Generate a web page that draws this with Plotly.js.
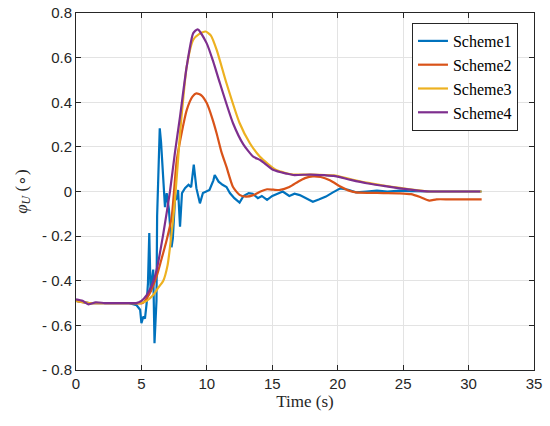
<!DOCTYPE html>
<html>
<head>
<meta charset="utf-8">
<script src="https://cdn.plot.ly/plotly-3.0.1.min.js"></script>
<style>html,body{margin:0;padding:0;background:#fff;}#chart{width:550px;height:426px;}</style>
</head>
<body>
<div id="chart"></div>
<script>
// Scheme1 (blue, noisy)
const t1 = [0, 1, 2, 3, 4, 4.63, 4.9, 5.0, 5.15, 5.27, 5.4, 5.5, 5.6, 5.7, 5.9, 6.0, 6.15, 6.2, 6.4, 6.5, 6.67, 6.8, 6.93, 7.1, 7.3, 7.4, 7.56, 7.7, 7.8, 7.95, 8.1, 8.33, 8.6, 8.8, 9.0, 9.2, 9.47, 9.7, 10.2, 10.5, 10.6, 10.9, 11.2, 11.5, 11.76, 12.1, 12.5, 12.8, 13.2, 13.5, 13.9, 14.2, 14.6, 15.0, 15.4, 15.8, 16.3, 16.7, 17.1, 17.6, 18.1, 18.6, 19.1, 19.6, 20.2, 20.8, 21.4, 22.2, 23.0, 23.8, 24.75, 25.5, 26.3, 27.3, 28, 29, 30, 31];
const y1 = [-0.49, -0.5, -0.5, -0.5, -0.5, -0.51, -0.53, -0.59, -0.56, -0.57, -0.5, -0.41, -0.186, -0.45, -0.35, -0.68, -0.49, -0.11, 0.283, 0.22, 0.04, -0.07, -0.007, -0.08, -0.25, -0.21, -0.04, -0.03, 0.007, -0.158, -0.007, 0.015, 0.03, 0.02, 0.12, 0.015, -0.053, -0.007, 0.007, 0.05, 0.074, 0.044, 0.03, 0.02, -0.007, -0.03, -0.05, -0.02, -0.007, -0.01, -0.03, -0.02, -0.038, -0.02, -0.01, 0.0, -0.02, -0.01, -0.016, -0.03, -0.046, -0.035, -0.023, -0.005, 0.014, 0.008, -0.004, 0.0, 0.004, 0.0, 0.004, 0.002, 0.0, 0.0, 0.0, 0.0, 0.0, 0.0];

// Scheme2 (orange)
const t2 = [0, 1, 2, 3, 4, 5.1, 5.6, 6.16, 6.5, 6.93, 7.3, 7.7, 8.1, 8.46, 8.9, 9.2, 9.6, 10.0, 10.4, 10.75, 11.1, 11.5, 12.0, 12.5, 13.0, 13.6, 14.1, 14.6, 15.1, 15.6, 16.3, 17.0, 17.5, 18.1, 18.7, 19.4, 20.2, 20.8, 21.4, 22.5, 23.5, 24.75, 25.6, 26.3, 27.0, 27.55, 28.5, 29.5, 31];
const y2 = [-0.49, -0.5, -0.5, -0.5, -0.5, -0.5, -0.46, -0.38, -0.31, -0.217, -0.12, 0.14, 0.27, 0.365, 0.425, 0.44, 0.43, 0.395, 0.33, 0.26, 0.18, 0.11, 0.02, -0.015, -0.023, -0.015, 0.0, 0.01, 0.008, 0.007, 0.02, 0.045, 0.06, 0.068, 0.065, 0.05, 0.022, 0.005, -0.004, -0.006, -0.007, -0.008, -0.012, -0.025, -0.041, -0.035, -0.035, -0.035, -0.035];

// Scheme3 (yellow)
const t3 = [0, 1, 2, 3, 4, 4.9, 5.4, 5.9, 6.3, 6.67, 7.0, 7.18, 7.56, 7.95, 8.2, 8.46, 8.96, 9.4, 9.9, 10.3, 10.75, 11.5, 12.5, 13.3, 14.06, 15.3, 16.6, 17.5, 18.5, 19.7, 21.0, 22.2, 23.5, 24.75, 26.0, 27.0, 27.3, 28, 29, 30, 31];
const y3 = [-0.49, -0.5, -0.5, -0.5, -0.5, -0.5, -0.49, -0.464, -0.43, -0.40, -0.33, -0.25, -0.04, 0.26, 0.42, 0.56, 0.68, 0.705, 0.717, 0.70, 0.635, 0.485, 0.307, 0.215, 0.156, 0.096, 0.076, 0.076, 0.075, 0.072, 0.055, 0.04, 0.027, 0.016, 0.006, 0.0, 0.0, 0.0, 0.0, 0.0, 0.0];

// Scheme4 (purple)
const t4 = [0, 0.5, 0.95, 1.5, 2.2, 3, 4, 4.6, 5.0, 5.4, 5.8, 6.16, 6.67, 7.18, 7.55, 7.95, 8.46, 8.96, 9.3, 9.98, 10.5, 11.0, 12.0, 12.8, 13.55, 14.1, 15.1, 16.1, 16.6, 17.9, 19.0, 19.7, 21.0, 22.2, 23.5, 24.75, 26.0, 27.0, 27.3, 28, 29, 30, 30.9];
const y4 = [-0.483, -0.49, -0.506, -0.497, -0.5, -0.5, -0.5, -0.5, -0.49, -0.464, -0.42, -0.352, -0.19, 0.0, 0.17, 0.335, 0.56, 0.71, 0.727, 0.665, 0.58, 0.485, 0.306, 0.21, 0.156, 0.14, 0.096, 0.08, 0.074, 0.076, 0.073, 0.07, 0.052, 0.037, 0.025, 0.014, 0.005, 0.0, 0.0, 0.0, 0.0, 0.0, 0.0];

const xTicks = [0, 5, 10, 15, 20, 25, 30, 35];
const yTicks = [-0.8, -0.6, -0.4, -0.2, 0, 0.2, 0.4, 0.6, 0.8];
const yTickText = ['- 0.8', '- 0.6', '- 0.4', '- 0.2', '0', '0.2', '0.4', '0.6', '0.8'];

const names = ['Scheme1', 'Scheme2', 'Scheme3', 'Scheme4'];
const colors = ['#0072BD', '#D95319', '#EDB120', '#7E2F8E'];
const xs = [t1, t2, t3, t4];
const ys = [y1, y2, y3, y4];

const serifSpan = s => "<span style=\"font-family:'Liberation Serif'\">" + s + "</span>";

const traces = names.map((n, i) => ({
  x: xs[i], y: ys[i], name: serifSpan(n), type: 'scatter', mode: 'lines',
  line: {color: colors[i], width: 2.2, shape: i === 0 ? 'linear' : 'spline', smoothing: 0.6}
}));

const layout = {
  width: 550, height: 426,
  margin: {l: 76, r: 16, t: 13, b: 56},
  paper_bgcolor: '#fff', plot_bgcolor: '#fff',
  showlegend: true,
  xaxis: {
    showgrid: true, gridcolor: '#e3e3e3', gridwidth: 1,
    zeroline: false, showline: true, linecolor: '#262626', linewidth: 1,
    mirror: 'ticks', ticks: 'inside', ticklen: 5, tickcolor: '#262626',
    tickfont: {family: 'Liberation Sans', size: 15, color: '#262626'},
    range: [0, 35], tickvals: xTicks,
    title: {text: serifSpan('Time (s)'), font: {family: 'Liberation Serif', size: 17, color: '#262626'}, standoff: 4}
  },
  yaxis: {
    showgrid: true, gridcolor: '#e3e3e3', gridwidth: 1,
    zeroline: false, showline: true, linecolor: '#262626', linewidth: 1,
    mirror: 'ticks', ticks: 'inside', ticklen: 5, tickcolor: '#262626',
    tickfont: {family: 'Liberation Sans', size: 15, color: '#262626'},
    range: [-0.8, 0.8], tickvals: yTicks, ticktext: yTickText,
    title: {text: serifSpan('<i>φ</i><sub><i>U</i></sub> (∘)'), font: {family: 'Liberation Serif', size: 17, color: '#262626'}, standoff: 10}
  },
  legend: {
    x: 0.965, y: 0.972, xanchor: 'right', yanchor: 'top',
    bgcolor: '#fff', bordercolor: '#262626', borderwidth: 1,
    font: {family: 'Liberation Serif', size: 16, color: '#000'},
    tracegroupgap: 0
  }
};

Plotly.newPlot('chart', traces, layout, {staticPlot: true, displayModeBar: false});
</script>
</body>
</html>
